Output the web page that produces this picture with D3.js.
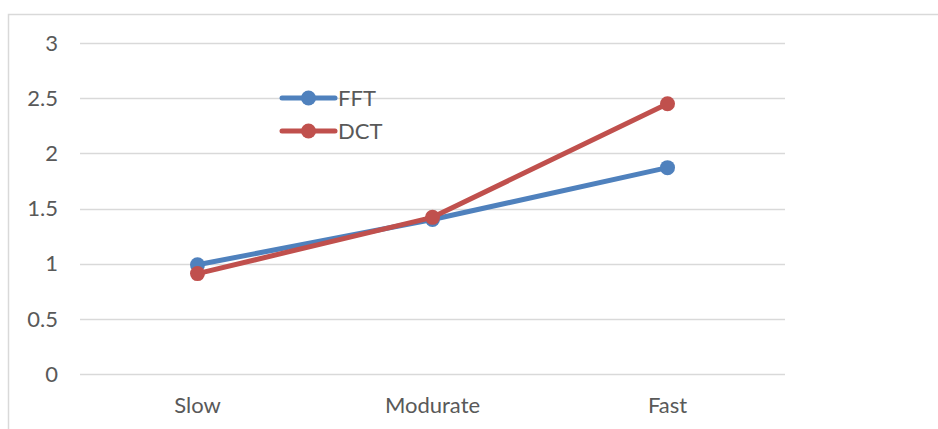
<!DOCTYPE html>
<html>
<head>
<meta charset="utf-8">
<script src="https://cdn.jsdelivr.net/npm/d3@7"></script>
<style>
  html, body { margin: 0; padding: 0; background: #fff; }
  svg { display: block; font-family: Lato, "Open Sans", sans-serif; }
</style>
</head>
<body>
<div id="chart"></div>
<script>
const categories = ["Slow", "Modurate", "Fast"];
const fftValues = [0.99, 1.40, 1.87];
const dctValues = [0.91, 1.42, 2.45];
const yTicks = [0, 0.5, 1, 1.5, 2, 2.5, 3];

const series = [
	{ name: "FFT", values: fftValues, color: "#4F81BD" },
	{ name: "DCT", values: dctValues, color: "#C0504D" }
];

const width = 938, height = 429;
const plot = { left: 80, right: 785, top: 43, bottom: 374 };
const fontSize = "22px";

const svg = d3.select("#chart").append("svg")
	.attr("width", width)
	.attr("height", height);

// chart frame (clipped by the window on right and bottom)
svg.append("rect")
	.attr("x", 8.5).attr("y", 14.5)
	.attr("width", 1000).attr("height", 1000)
	.attr("fill", "none")
	.attr("stroke", "#D9D9D9")
	.attr("stroke-width", 1.5);

const x = d3.scaleBand()
	.domain(categories)
	.range([plot.left, plot.right]);

const y = d3.scaleLinear()
	.domain([0, 3])
	.range([plot.bottom, plot.top]);

// gridlines
svg.append("g")
	.selectAll("line")
	.data(yTicks)
	.join("line")
	.attr("x1", plot.left).attr("x2", plot.right)
	.attr("y1", d => Math.round(y(d)) + 0.5)
	.attr("y2", d => Math.round(y(d)) + 0.5)
	.attr("stroke", "#D9D9D9")
	.attr("stroke-width", 1.5);

// y tick labels
svg.append("g")
	.attr("text-anchor", "end")
	.selectAll("text")
	.data(yTicks)
	.join("text")
	.attr("x", 58)
	.attr("y", d => y(d))
	.attr("dy", "0.35em")
	.attr("fill", "#595959")
	.style("font-size", fontSize)
	.text(d => d);

// x category labels
svg.append("g")
	.attr("text-anchor", "middle")
	.selectAll("text")
	.data(categories)
	.join("text")
	.attr("x", d => x(d) + x.bandwidth() / 2)
	.attr("y", 405)
	.attr("dy", "0.35em")
	.attr("fill", "#595959")
	.style("font-size", fontSize)
	.text(d => d);

const line = d3.line()
	.x((d, i) => x(categories[i]) + x.bandwidth() / 2)
	.y(d => y(d));

// series lines and markers
series.forEach(s => {
	svg.append("path")
		.datum(s.values)
		.attr("d", line)
		.attr("fill", "none")
		.attr("stroke", s.color)
		.attr("stroke-width", 5)
		.attr("stroke-linecap", "round")
		.attr("stroke-linejoin", "round");

	svg.append("g")
		.selectAll("circle")
		.data(s.values)
		.join("circle")
		.attr("cx", (d, i) => x(categories[i]) + x.bandwidth() / 2)
		.attr("cy", d => y(d))
		.attr("r", 7.5)
		.attr("fill", s.color);
});

// legend
const legend = svg.append("g")
	.selectAll("g")
	.data(series)
	.join("g")
	.attr("transform", (d, i) => `translate(282,${98 + i * 33})`);

legend.append("line")
	.attr("x1", 0).attr("x2", 53)
	.attr("stroke", d => d.color)
	.attr("stroke-width", 5)
	.attr("stroke-linecap", "round");

legend.append("circle")
	.attr("cx", 26.5)
	.attr("r", 7.5)
	.attr("fill", d => d.color);

legend.append("text")
	.attr("x", 56)
	.attr("dy", "0.35em")
	.attr("fill", "#595959")
	.style("font-size", fontSize)
	.text(d => d.name);
</script>
</body>
</html>
